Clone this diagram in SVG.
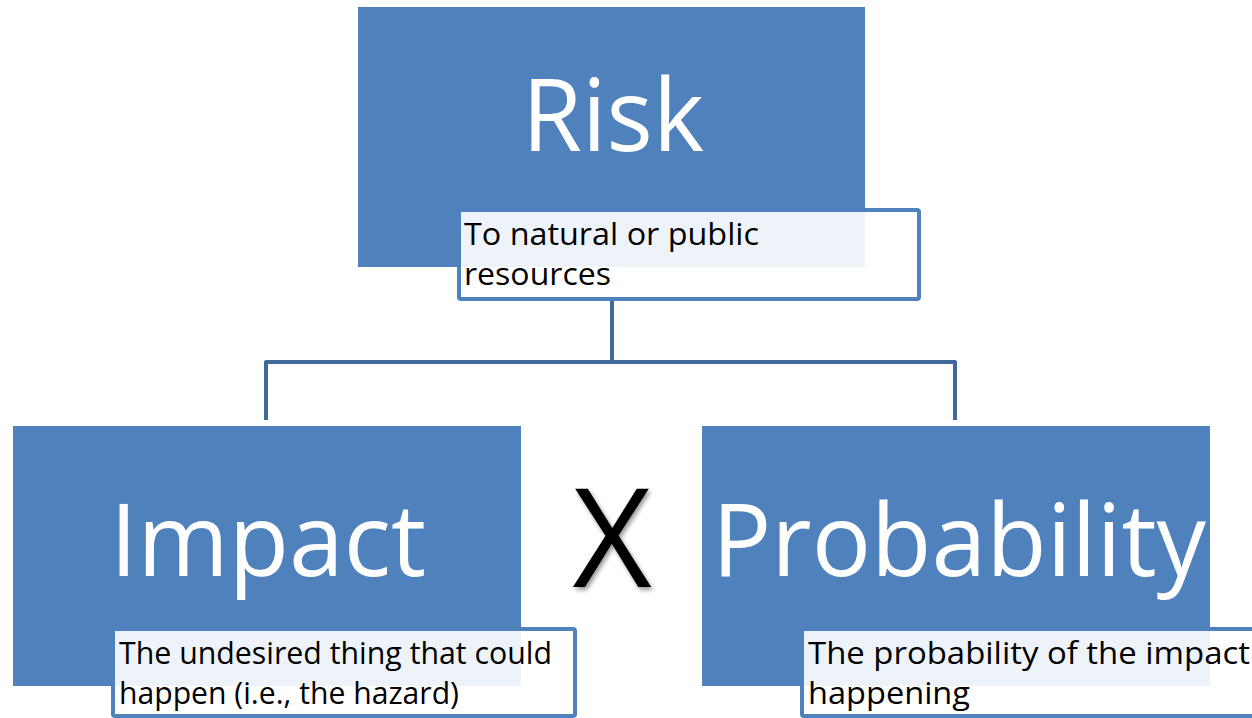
<svg xmlns="http://www.w3.org/2000/svg" width="1252" height="718" viewBox="0 0 1252 718">
<defs>
<style>
.box{fill:#4F81BD;}
.sub{fill:#FFFFFF;fill-opacity:0.9;stroke:#4F81BD;stroke-width:4;}
.big{font-family:"Open Sans","Liberation Sans",sans-serif;font-size:100px;fill:#FFFFFF;text-anchor:middle;}
.small{font-family:"Open Sans","Liberation Sans",sans-serif;font-size:31px;fill:#000000;}
.conn{fill:none;stroke:#41689A;stroke-width:4;stroke-linejoin:round;}
</style>
<filter id="shadow" x="-20%" y="-20%" width="150%" height="150%">
<feDropShadow dx="2" dy="3" stdDeviation="2" flood-color="#000000" flood-opacity="0.4"/>
</filter>
</defs>
<rect width="1252" height="718" fill="#FFFFFF"/>
<g id="connectors">
<path class="conn" d="M612,300 V362"/>
<path class="conn" d="M266,420 V362 H955 V420"/>
</g>
<g id="risk">
<rect class="box" x="358" y="7" width="507" height="260"/>
<text class="big" x="613" y="151" textLength="182" lengthAdjust="spacingAndGlyphs">Risk</text>
<rect class="sub" x="459" y="210" width="460" height="89" rx="2"/>
<text class="small" x="464" y="245" textLength="295" lengthAdjust="spacingAndGlyphs">To natural or public</text>
<text class="small" x="464" y="285" textLength="147" lengthAdjust="spacingAndGlyphs">resources</text>
</g>
<g id="impact">
<rect class="box" x="13" y="426" width="508" height="260"/>
<text class="big" x="268" y="576" textLength="316" lengthAdjust="spacingAndGlyphs">Impact</text>
<rect class="sub" x="113" y="629" width="462" height="87" rx="2"/>
<text class="small" x="119" y="664" textLength="433" lengthAdjust="spacingAndGlyphs">The undesired thing that could</text>
<text class="small" x="119" y="704" textLength="340" lengthAdjust="spacingAndGlyphs">happen (i.e., the hazard)</text>
</g>
<g id="times">
<text x="612" y="587" font-family="Open Sans, Liberation Sans, sans-serif" font-size="137" fill="#000000" text-anchor="middle" filter="url(#shadow)">X</text>
</g>
<g id="probability">
<rect class="box" x="702" y="426" width="508" height="260"/>
<text class="big" x="959" y="576" textLength="494" lengthAdjust="spacingAndGlyphs">Probability</text>
<rect class="sub" x="802" y="629" width="462" height="87" rx="2"/>
<text class="small" x="808" y="664" textLength="442" lengthAdjust="spacingAndGlyphs">The probability of the impact</text>
<text class="small" x="808" y="704" textLength="162" lengthAdjust="spacingAndGlyphs">happening</text>
</g>
</svg>
